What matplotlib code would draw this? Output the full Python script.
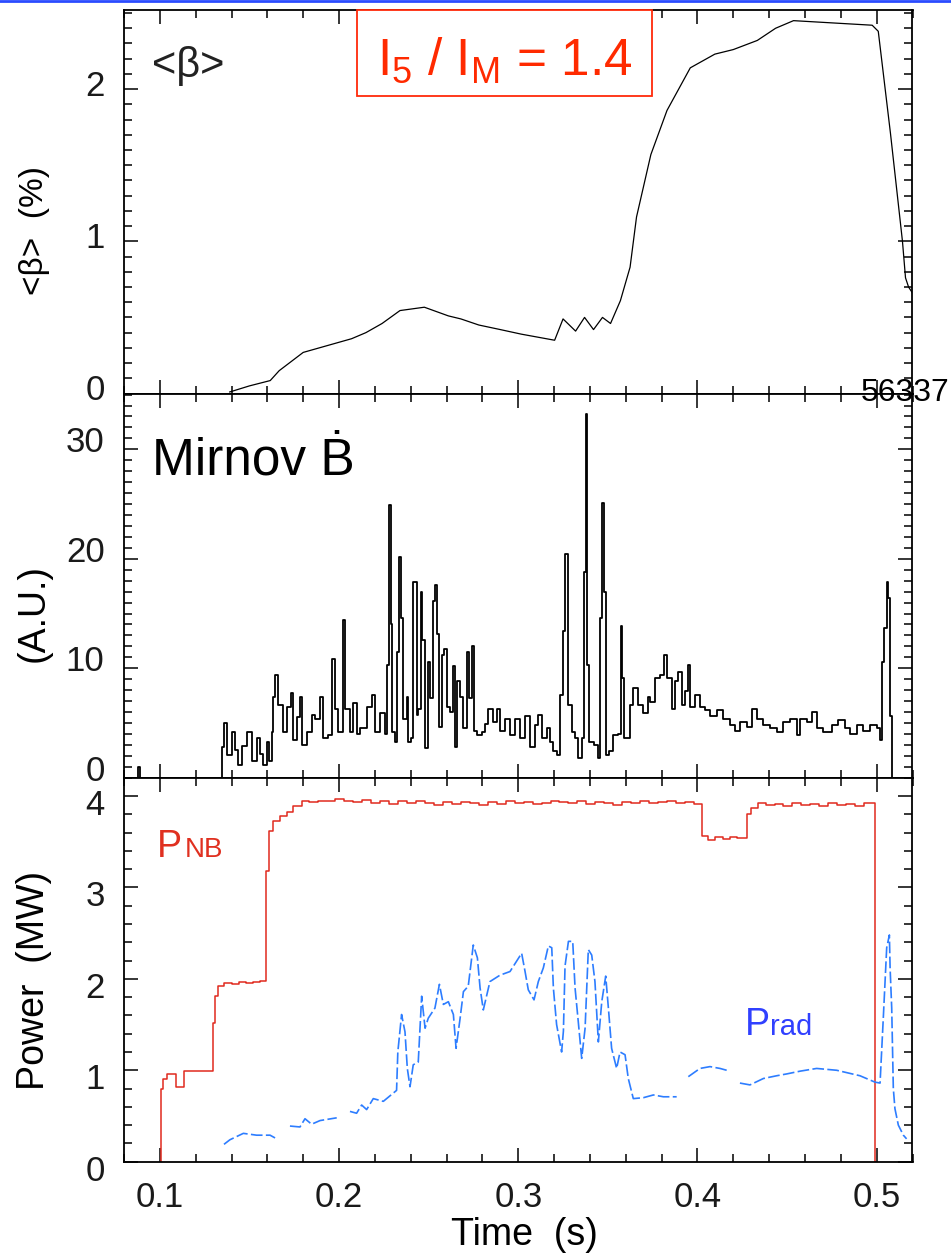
import numpy as np
import matplotlib
matplotlib.use("Agg")
import matplotlib.pyplot as plt
import matplotlib.transforms as mtransforms
from matplotlib.ticker import MultipleLocator
from matplotlib.patches import Rectangle
from matplotlib.lines import Line2D

plt.rcParams['font.family'] = ['Liberation Sans', 'DejaVu Sans']
plt.rcParams['mathtext.default'] = 'regular'

# ---------------- data ----------------
beta_t = [0.139, 0.150, 0.1616, 0.1666, 0.180, 0.186, 0.195, 0.207, 0.215, 0.224, 0.234, 0.2476,
          0.261, 0.268, 0.278, 0.290, 0.3017, 0.3203, 0.325, 0.332, 0.337, 0.342, 0.347, 0.3515,
          0.357, 0.3624, 0.366, 0.374, 0.383, 0.396, 0.4097, 0.420, 0.4334, 0.4436, 0.4536,
          0.4975, 0.5009, 0.5077, 0.5144, 0.5161, 0.5178, 0.520]
beta_v = [0.01, 0.05, 0.085, 0.15, 0.27, 0.29, 0.32, 0.36, 0.40, 0.46, 0.545, 0.567,
          0.51, 0.49, 0.45, 0.42, 0.39, 0.35, 0.49, 0.41, 0.50, 0.42, 0.50, 0.46,
          0.61, 0.83, 1.16, 1.57, 1.86, 2.14, 2.23, 2.26, 2.32, 2.40, 2.45,
          2.42, 2.38, 1.71, 1.00, 0.76, 0.70, 0.66]

mirnov_t = [0.0796, 0.0871, 0.0880, 0.0889, 0.1345, 0.1360, 0.1373, 0.1401, 0.1419, 0.1438,
            0.1457, 0.1485, 0.1512, 0.1540, 0.1559, 0.1578, 0.1596, 0.1609, 0.1624, 0.1633,
            0.1645, 0.1661, 0.1689, 0.1708, 0.1730, 0.1745, 0.1764, 0.1782, 0.1791, 0.1819,
            0.1847, 0.1866, 0.1894, 0.1912, 0.1940, 0.1959, 0.1977, 0.1996, 0.2020, 0.2033,
            0.2061, 0.2080, 0.2098, 0.2117, 0.2154, 0.2182, 0.2200, 0.2228, 0.2256, 0.2266,
            0.2281, 0.2290, 0.2294, 0.2312, 0.2322, 0.2335, 0.2346, 0.2359, 0.2377, 0.2387,
            0.2402, 0.2415, 0.2433, 0.2443, 0.2456, 0.2465, 0.2480, 0.2495, 0.2508, 0.2522,
            0.2535, 0.2545, 0.2558, 0.2573, 0.2588, 0.2601, 0.2619, 0.2638, 0.2647, 0.2656,
            0.2675, 0.2693, 0.2712, 0.2725, 0.2740, 0.2755, 0.2768, 0.2796, 0.2814, 0.2833,
            0.2861, 0.2880, 0.2898, 0.2926, 0.2954, 0.2982, 0.3010, 0.3038, 0.3066, 0.3094,
            0.3108, 0.3131, 0.3159, 0.3177, 0.3196, 0.3214, 0.3233, 0.3252, 0.3263, 0.3276,
            0.3298, 0.3317, 0.3335, 0.3354, 0.3367, 0.3376, 0.3382, 0.3395, 0.3425, 0.3443,
            0.3456, 0.3469, 0.3479, 0.3488, 0.3506, 0.3531, 0.3558, 0.3573, 0.3581, 0.3592,
            0.3624, 0.3642, 0.3670, 0.3698, 0.3726, 0.3735, 0.3763, 0.3791, 0.3813, 0.3828,
            0.3856, 0.3875, 0.3893, 0.3912, 0.3930, 0.3949, 0.3958, 0.3986, 0.4014, 0.4042,
            0.4070, 0.4107, 0.4144, 0.4182, 0.4209, 0.4237, 0.4275, 0.4302, 0.4330, 0.4368,
            0.4405, 0.4442, 0.4479, 0.4516, 0.4554, 0.4572, 0.4609, 0.4637, 0.4665, 0.4702,
            0.4749, 0.4786, 0.4823, 0.4851, 0.4888, 0.4925, 0.4963, 0.5000, 0.5018, 0.5032,
            0.5043, 0.5056, 0.5065, 0.5074, 0.5084, 0.5086, 0.5200]
mirnov_v = [0.0, 0.0, 1.0, 0.0, 2.8, 5.0, 2.1, 4.2, 2.5, 1.2,
            2.9, 4.2, 1.5, 3.6, 2.2, 1.2, 3.3, 1.5, 4.2, 7.4,
            9.4, 6.6, 4.2, 6.5, 7.7, 3.4, 5.5, 7.4, 3.0, 4.2,
            5.7, 5.4, 7.4, 3.6, 3.9, 10.8, 6.3, 4.2, 14.4, 6.3,
            4.2, 6.8, 4.0, 4.5, 6.5, 7.6, 4.2, 5.9, 4.0, 10.3,
            24.9, 14.0, 4.2, 3.3, 11.5, 20.2, 14.6, 5.4, 7.4, 3.3,
            3.6, 17.9, 5.7, 6.3, 17.0, 12.6, 2.7, 10.6, 7.3, 16.1,
            17.6, 13.1, 4.6, 11.2, 11.8, 6.5, 6.0, 10.2, 2.8, 8.8,
            7.4, 4.5, 11.5, 7.3, 12.0, 4.3, 3.9, 4.2, 4.9, 6.3,
            5.1, 6.3, 4.3, 5.4, 3.9, 5.4, 3.6, 5.6, 2.8, 4.8,
            5.7, 3.6, 4.5, 3.3, 2.4, 2.1, 7.6, 13.4, 20.4, 6.6,
            4.2, 3.6, 1.8, 3.6, 18.8, 33.2, 10.3, 3.3, 3.0, 1.8,
            14.6, 25.1, 17.0, 2.1, 2.4, 3.9, 4.0, 13.9, 9.1, 3.6,
            6.6, 8.2, 6.6, 5.9, 7.4, 6.9, 9.1, 9.4, 11.2, 9.1,
            6.3, 8.8, 9.7, 6.6, 7.9, 10.3, 6.5, 7.6, 6.5, 6.2,
            5.6, 6.2, 5.4, 4.8, 4.3, 5.1, 4.6, 6.3, 5.4, 4.8,
            4.5, 4.2, 5.1, 5.4, 3.9, 5.4, 5.1, 6.0, 4.5, 4.2,
            4.8, 5.3, 4.5, 4.0, 4.8, 4.3, 4.8, 4.5, 3.4, 10.6,
            13.7, 17.9, 16.4, 5.6, 0.25, 0.0, 0.0]

pnb_t = [0.1005, 0.1005, 0.1020, 0.1038, 0.1085, 0.1090, 0.1126, 0.1135, 0.1295, 0.1297,
         0.1308, 0.1326, 0.1360, 0.1400, 0.1440, 0.1480, 0.1520, 0.1560, 0.1593, 0.1611,
         0.1634, 0.1671, 0.1708, 0.1745, 0.1792, 0.1830, 0.1880, 0.1930, 0.1980, 0.2030,
         0.2080, 0.2130, 0.2180, 0.2230, 0.2280, 0.2330, 0.2380, 0.2430, 0.2480, 0.2530,
         0.2580, 0.2630, 0.2680, 0.2730, 0.2780, 0.2830, 0.2880, 0.2930, 0.2980, 0.3030,
         0.3080, 0.3130, 0.3180, 0.3230, 0.3280, 0.3330, 0.3380, 0.3430, 0.3480, 0.3530,
         0.3580, 0.3630, 0.3680, 0.3730, 0.3780, 0.3830, 0.3880, 0.3930, 0.3980, 0.4024,
         0.4060, 0.4100, 0.4140, 0.4180, 0.4220, 0.4278, 0.4300, 0.4340, 0.4380, 0.4430,
         0.4480, 0.4530, 0.4580, 0.4630, 0.4680, 0.4730, 0.4780, 0.4830, 0.4880, 0.4930,
         0.4991, 0.4995]
pnb_v = [0.0, 0.80, 0.90, 0.96, 0.96, 0.82, 0.82, 0.99, 0.99, 1.52,
         1.81, 1.92, 1.96, 1.94, 1.97, 1.95, 1.97, 1.98, 3.18, 3.62,
         3.73, 3.78, 3.83, 3.89, 3.94, 3.93, 3.95, 3.94, 3.97, 3.95,
         3.93, 3.96, 3.92, 3.94, 3.91, 3.94, 3.92, 3.95, 3.92, 3.90,
         3.93, 3.91, 3.93, 3.92, 3.90, 3.93, 3.91, 3.94, 3.92, 3.93,
         3.91, 3.92, 3.95, 3.93, 3.92, 3.94, 3.91, 3.93, 3.92, 3.90,
         3.93, 3.92, 3.94, 3.92, 3.93, 3.95, 3.92, 3.93, 3.91, 3.56,
         3.52, 3.55, 3.53, 3.55, 3.54, 3.80, 3.87, 3.92, 3.90, 3.91,
         3.89, 3.92, 3.90, 3.91, 3.89, 3.92, 3.90, 3.91, 3.89, 3.92,
         0.0, 0.0]

prad_t = [0.1358, 0.1391, 0.1466, 0.1540, 0.1615, 0.1643, np.nan, 0.1726, 0.1782, 0.1810,
          0.1847, 0.1894, 0.1987, np.nan, 0.2061, 0.2098, 0.2126, 0.2154, 0.2191, 0.2247,
          0.2321, 0.2328, 0.2349, 0.2368, 0.2381, 0.2396, 0.2414, 0.2442, 0.2461, 0.2480,
          0.2498, 0.2535, 0.2560, 0.2582, 0.2610, 0.2638, 0.2653, 0.2675, 0.2694, 0.2721,
          0.2749, 0.2772, 0.2787, 0.2805, 0.2842, 0.2898, 0.2954, 0.3019, 0.3038, 0.3056,
          0.3088, 0.3112, 0.3140, 0.3168, 0.3187, 0.3196, 0.3214, 0.3242, 0.3252, 0.3261,
          0.3280, 0.3304, 0.3317, 0.3335, 0.3354, 0.3373, 0.3391, 0.3410, 0.3428, 0.3447,
          0.3466, 0.3488, 0.3503, 0.3521, 0.3549, 0.3568, 0.3596, 0.3614, 0.3642, 0.3698,
          0.3754, 0.3810, 0.3884, np.nan, 0.3949, 0.4014, 0.4070, 0.4126, 0.4163, np.nan,
          0.4237, 0.4293, 0.4368, 0.4442, 0.4498, 0.4572, 0.4665, 0.4777, 0.4907, 0.4991,
          0.5019, 0.5037, 0.5056, 0.5071, 0.5075, 0.5084, 0.5093, 0.5102, 0.5121, 0.5149,
          0.5167]
prad_v = [0.19, 0.24, 0.31, 0.29, 0.29, 0.26, np.nan, 0.39, 0.38, 0.47,
          0.41, 0.45, 0.48, np.nan, 0.55, 0.53, 0.62, 0.57, 0.69, 0.66,
          0.78, 1.20, 1.61, 1.42, 1.02, 0.82, 1.06, 1.09, 1.81, 1.46,
          1.57, 1.68, 1.94, 1.72, 1.75, 1.61, 1.24, 1.56, 1.86, 1.92,
          2.37, 2.23, 1.90, 1.66, 1.97, 2.04, 2.08, 2.28, 2.08, 1.88,
          1.77, 1.97, 2.12, 2.36, 2.34, 1.90, 1.50, 1.20, 1.43, 2.14,
          2.41, 2.41, 1.90, 1.53, 1.13, 1.46, 2.32, 2.26, 1.97, 1.31,
          1.75, 2.03, 1.68, 1.24, 1.02, 1.20, 1.17, 0.91, 0.69, 0.70,
          0.73, 0.71, 0.71, np.nan, 0.93, 1.02, 1.04, 1.02, 1.00, np.nan,
          0.86, 0.84, 0.91, 0.94, 0.96, 0.99, 1.02, 1.00, 0.94, 0.87,
          0.86, 1.57, 2.34, 2.48, 2.12, 1.68, 0.80, 0.58, 0.40, 0.29,
          0.25]

x_ticks = [0.1, 0.2, 0.3, 0.4, 0.5]
x_ticklabels = ['0.1', '0.2', '0.3', '0.4', '0.5']

# ---------------- figure ----------------
W, H = 951, 1254
fig = plt.figure(figsize=(W / 100, H / 100), dpi=100)

L = 124 / W
Wd = (912.5 - 124) / W
ax1 = fig.add_axes([L, 1 - 393.5 / H, Wd, (393.5 - 10) / H])
ax2 = fig.add_axes([L, 1 - 777.7 / H, Wd, (777.7 - 393.5) / H])
ax3 = fig.add_axes([L, 1 - 1161.7 / H, Wd, (1161.7 - 777.7) / H])

tick_col = '#1a1a1a'
for ax in (ax1, ax2, ax3):
    ax.set_xlim(0.08, 0.52)
    ax.xaxis.set_major_locator(MultipleLocator(0.1))
    ax.xaxis.set_minor_locator(MultipleLocator(0.02))
    ax.tick_params(which='both', direction='in', top=True, right=True,
                   width=1.1, colors='black', labelcolor=tick_col,
                   labelsize=25, pad=14)
    ax.tick_params(which='major', length=10)
    ax.tick_params(which='minor', length=5.5)
    for s in ax.spines.values():
        s.set_linewidth(1.3)
    ax.set_facecolor('white')

for ax in (ax1, ax2):
    ax.tick_params(labelbottom=False)

# Panel 1: beta
ax1.plot(beta_t, beta_v, color='black', lw=0.9)
ax1.set_ylim(0, 2.52)
ax1.yaxis.set_major_locator(MultipleLocator(1))
ax1.yaxis.set_minor_locator(MultipleLocator(0.1))
ax1.set_ylabel('<β>  (%)', fontsize=24, va='center')
ax1.yaxis.set_label_coords(-0.114, 0.426)
ax1.text(0.0355, 0.825, '<β>', transform=ax1.transAxes, fontsize=30,
         ha='left', va='baseline', color='#222222')
ax1.add_patch(Rectangle((0.295, 0.776), 0.375, 0.224, transform=ax1.transAxes,
                        facecolor='white', edgecolor='#ff2a0a', lw=1.3,
                        clip_on=False, zorder=3))
ax1.text(0.483, 0.8305, r'I$_5$ / I$_M$ = 1.4', transform=ax1.transAxes,
         fontsize=37, color='#ff2a00', ha='center', va='baseline', zorder=4)

# Panel 2: Mirnov
ax2.plot(mirnov_t, mirnov_v, color='black', lw=1.3, drawstyle='steps-post')
ax2.set_ylim(0, 35.1)
ax2.yaxis.set_major_locator(MultipleLocator(10))
ax2.yaxis.set_minor_locator(MultipleLocator(1))
ax2.set_ylabel('(A.U.)', fontsize=27, va='center')
ax2.yaxis.set_label_coords(-0.114, 0.429)
ax2.text(0.035, 0.788, 'Mirnov Ḃ', transform=ax2.transAxes, fontsize=37,
         ha='left', va='baseline', color='black')

# Panel 3: power
ax3.plot(pnb_t, pnb_v, color='#e02a1e', lw=1.1, drawstyle='steps-post')
ax3.plot(prad_t, prad_v, color='#2d7dff', lw=1.2, dashes=(7, 2))
ax3.set_ylim(0, 4.2)
ax3.yaxis.set_major_locator(MultipleLocator(1))
ax3.yaxis.set_minor_locator(MultipleLocator(0.2))
ax3.set_xticks(x_ticks)
ax3.set_xticklabels(x_ticklabels)
ax3.set_ylabel('Power  (MW)', fontsize=27, va='center')
ax3.yaxis.set_label_coords(-0.114, 0.473)
ax3.set_xlabel('Time  (s)', fontsize=27, va='center')
ax3.xaxis.set_label_coords(0.508, -0.19)
ax3.text(0.0419, 0.794, 'P', transform=ax3.transAxes, fontsize=27,
         color='#e03020', ha='left', va='baseline')
ax3.text(0.0774, 0.794, 'NB', transform=ax3.transAxes, fontsize=20,
         color='#e03020', ha='left', va='baseline')
ax3.text(0.7876, 0.33, 'P', transform=ax3.transAxes, fontsize=27,
         color='#3040ff', ha='left', va='baseline')
ax3.text(0.8193, 0.33, 'rad', transform=ax3.transAxes, fontsize=21,
         color='#3040ff', ha='left', va='baseline')

# small vertical shifts of the y tick labels, as in the scanned original
for ax, dy_px in ((ax1, 6), (ax2, 10), (ax3, -6)):
    off = mtransforms.ScaledTranslation(0, dy_px / 100, fig.dpi_scale_trans)
    for lbl in ax.get_yticklabels():
        lbl.set_transform(lbl.get_transform() + off)

# shot number and slide header line
fig.text(950 / W, 1 - 393 / H, '56337', fontsize=23, ha='right', va='center',
         color='black')
fig.add_artist(Line2D([0, 1], [1 - 1 / H, 1 - 1 / H], color='#2a4bff', lw=2,
                      transform=fig.transFigure))

fig.savefig('out.png', dpi=100)
